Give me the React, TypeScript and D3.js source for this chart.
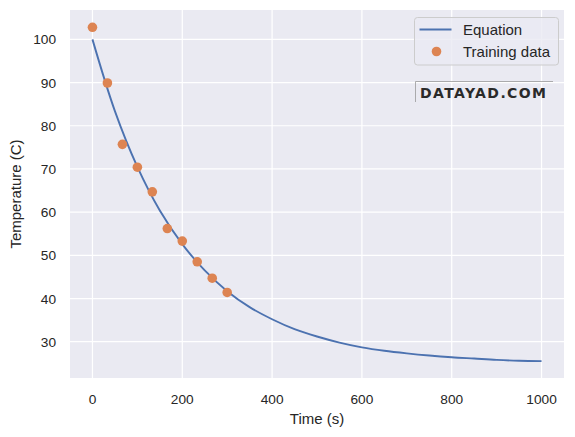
import React from "react";
import * as d3 from "d3";

// Training data
const trainTime = [0, 33.3, 66.7, 100, 133.3, 166.7, 200, 233.3, 266.7, 300];
const trainTemp = [102.8, 89.9, 75.7, 70.4, 64.7, 56.2, 53.3, 48.5, 44.7, 41.4];

// Fitted equation curve
const eqTime = [0, 50, 100, 150, 200, 250, 300, 350, 400, 450, 500, 550, 600, 650, 700, 750, 800, 850, 900, 950, 1000];
const eqTemp = [100, 83.4, 70.5, 60.4, 52.6, 46.5, 41.7, 38.0, 35.2, 32.9, 31.2, 29.8, 28.7, 27.9, 27.3, 26.8, 26.4, 26.1, 25.8, 25.6, 25.5];

const xTicks = [0, 200, 400, 600, 800, 1000];
const yTicks = [30, 40, 50, 60, 70, 80, 90, 100];

const W = 575, H = 437;
const L = 70, R = 564, T = 10, B = 378;
const FONT = "'Liberation Sans', Arial, sans-serif";

export default function App() {
  const x = d3.scaleLinear().domain([-50, 1050]).range([L, R]);
  const y = d3.scaleLinear().domain([21.6, 106.8]).range([B, T]);
  const line = d3
    .line<number>()
    .x((_, i) => x(eqTime[i]))
    .y((d) => y(d))
    .curve(d3.curveCatmullRom.alpha(0.5));

  return (
    <svg width={W} height={H} style={{ position: "absolute", left: 0, top: 0 }} fontFamily={FONT}>
      <rect x={0} y={0} width={W} height={H} fill="#ffffff" />
      <rect x={L} y={T} width={R - L} height={B - T} fill="#EAEAF2" />
      {xTicks.map((t) => (
        <line key={"gx" + t} x1={x(t)} x2={x(t)} y1={T} y2={B} stroke="#ffffff" strokeWidth={1.2} />
      ))}
      {yTicks.map((t) => (
        <line key={"gy" + t} x1={L} x2={R} y1={y(t)} y2={y(t)} stroke="#ffffff" strokeWidth={1.2} />
      ))}
      <path d={line(eqTemp) || ""} fill="none" stroke="#4C72B0" strokeWidth={1.9} />
      {trainTime.map((t, i) => (
        <circle key={"p" + i} cx={x(t)} cy={y(trainTemp[i])} r={4.8} fill="#DD8452" />
      ))}
      {xTicks.map((t) => (
        <text key={"tx" + t} x={x(t)} y={404} textAnchor="middle" fontSize={13.7} fill="#262626">
          {t}
        </text>
      ))}
      {yTicks.map((t) => (
        <text key={"ty" + t} x={56} y={y(t) + 5} textAnchor="end" fontSize={13.7} fill="#262626">
          {t}
        </text>
      ))}
      <text x={(L + R) / 2} y={424} textAnchor="middle" fontSize={15} fill="#262626">
        Time (s)
      </text>
      <text
        transform={`translate(21,${(T + B) / 2}) rotate(-90)`}
        textAnchor="middle"
        fontSize={15}
        fill="#262626"
      >
        Temperature (C)
      </text>
      {/* Legend */}
      <rect x={414.5} y={17.5} width={144} height={47.5} rx={3} fill="#EAEAF2" fillOpacity={0.8} stroke="#cccccc" strokeWidth={1} />
      <line x1={419.5} x2={451.5} y1={29.5} y2={29.5} stroke="#4C72B0" strokeWidth={1.9} />
      <text x={463} y={34.8} fontSize={15} fill="#262626">Equation</text>
      <circle cx={436.5} cy={51.5} r={4.8} fill="#DD8452" />
      <text x={463} y={56.8} fontSize={15} fill="#262626">Training data</text>
      {/* Watermark */}
      <line x1={415.5} x2={553} y1={81.5} y2={81.5} stroke="#999999" strokeWidth={0.8} />
      <line x1={415.5} x2={415.5} y1={81.5} y2={102} stroke="#999999" strokeWidth={0.8} />
      <text x={420} y={97.5} fontSize={14} fontWeight={900} fill="#2a2a2a" fontFamily="'DejaVu Sans', sans-serif" letterSpacing={1.4}>
        DATAYAD.COM
      </text>
    </svg>
  );
}
